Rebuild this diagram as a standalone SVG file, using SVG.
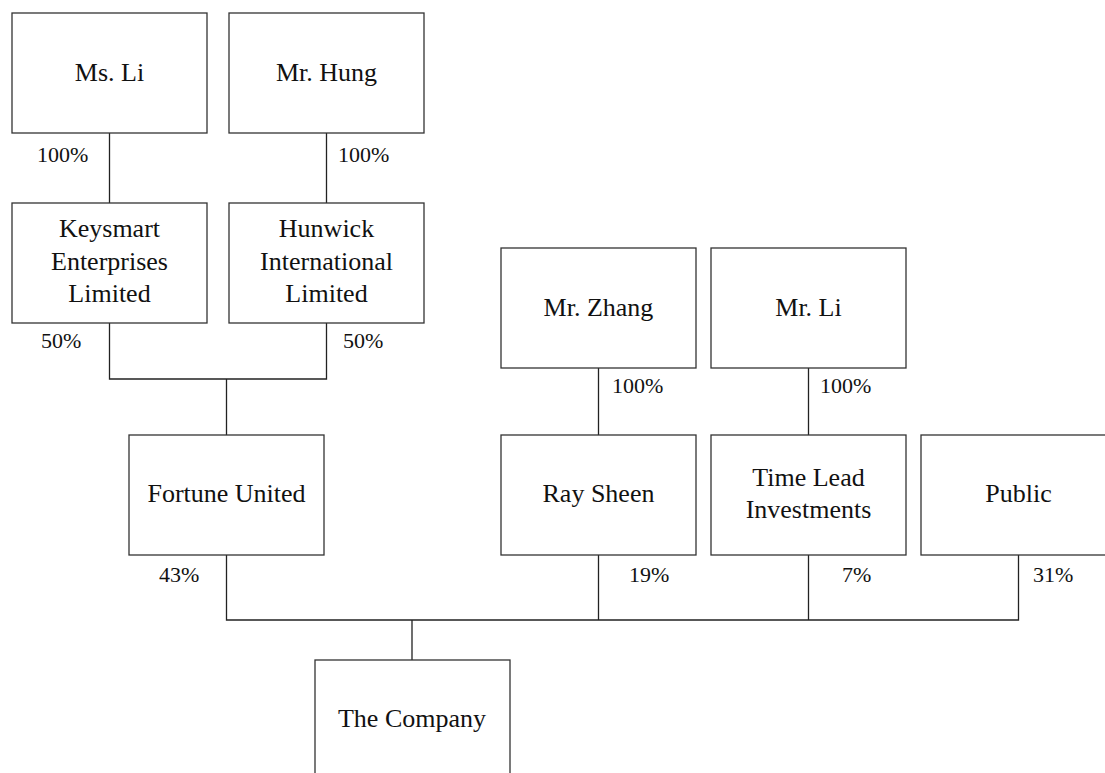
<svg xmlns="http://www.w3.org/2000/svg" width="1105" height="773" viewBox="0 0 1105 773">
<style>
.box{fill:#fff;stroke:#333;stroke-width:1.3}
.lbl{font-family:"Liberation Serif","Times New Roman",serif;font-size:26px;fill:#111;text-anchor:middle}
.pct{font-family:"Liberation Serif","Times New Roman",serif;font-size:22px;fill:#111}
.conn{fill:none;stroke:#222;stroke-width:1.3}
</style>
<rect width="1105" height="773" fill="#fff"/>
<g id="connectors">
<path class="conn" d="M109.5 133V203M326.5 133V203"/>
<path class="conn" d="M109.5 323V379H326.5V323M226.5 379V435"/>
<path class="conn" d="M598.5 368V435M808.5 368V435"/>
<path class="conn" d="M226.5 555V620H1018.5V555M598.5 555V620M808.5 555V620M412 620V660"/>
</g>
<g id="pcts">
<text class="pct" x="37" y="162">100%</text>
<text class="pct" x="338" y="162">100%</text>
<text class="pct" x="41" y="348">50%</text>
<text class="pct" x="343" y="348">50%</text>
<text class="pct" x="612" y="393">100%</text>
<text class="pct" x="820" y="393">100%</text>
<text class="pct" x="159" y="582">43%</text>
<text class="pct" x="629" y="582">19%</text>
<text class="pct" x="842" y="582">7%</text>
<text class="pct" x="1033" y="582">31%</text>
</g>
<g id="ms-li"><rect class="box" x="12" y="13" width="195" height="120"/><text class="lbl" x="109.5" y="81">Ms. Li</text></g>
<g id="mr-hung"><rect class="box" x="229" y="13" width="195" height="120"/><text class="lbl" x="326.5" y="81">Mr. Hung</text></g>
<g id="keysmart"><rect class="box" x="12" y="203" width="195" height="120"/><text class="lbl" x="109.5" y="237">Keysmart</text><text class="lbl" x="109.5" y="270">Enterprises</text><text class="lbl" x="109.5" y="302">Limited</text></g>
<g id="hunwick"><rect class="box" x="229" y="203" width="195" height="120"/><text class="lbl" x="326.5" y="237">Hunwick</text><text class="lbl" x="326.5" y="270">International</text><text class="lbl" x="326.5" y="302">Limited</text></g>
<g id="mr-zhang"><rect class="box" x="501" y="248" width="195" height="120"/><text class="lbl" x="598.5" y="316">Mr. Zhang</text></g>
<g id="mr-li"><rect class="box" x="711" y="248" width="195" height="120"/><text class="lbl" x="808.5" y="316">Mr. Li</text></g>
<g id="fortune-united"><rect class="box" x="129" y="435" width="195" height="120"/><text class="lbl" x="226.5" y="502">Fortune United</text></g>
<g id="ray-sheen"><rect class="box" x="501" y="435" width="195" height="120"/><text class="lbl" x="598.5" y="502">Ray Sheen</text></g>
<g id="time-lead"><rect class="box" x="711" y="435" width="195" height="120"/><text class="lbl" x="808.5" y="486">Time Lead</text><text class="lbl" x="808.5" y="518">Investments</text></g>
<g id="public"><rect class="box" x="921" y="435" width="195" height="120"/><text class="lbl" x="1018.5" y="502">Public</text></g>
<g id="the-company"><rect class="box" x="315" y="660" width="195" height="120"/><text class="lbl" x="412" y="727">The Company</text></g>
</svg>
